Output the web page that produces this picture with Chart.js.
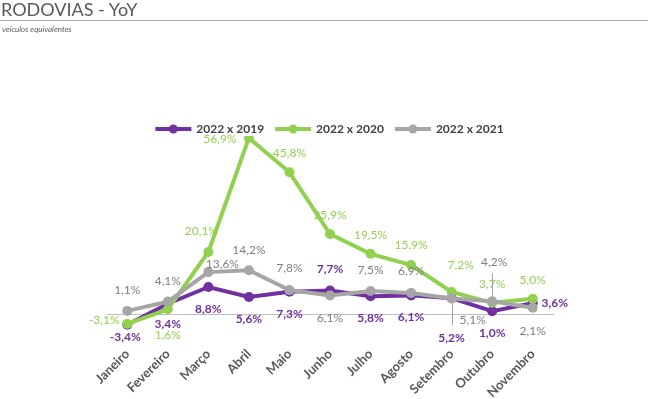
<!DOCTYPE html>
<html>
<head>
<meta charset="utf-8">
<script src="https://cdn.jsdelivr.net/npm/chart.js@4.4.0/dist/chart.umd.min.js"></script>
<style>
    html, body { margin: 0; padding: 0; background: #fff; }
    #wrap { position: relative; width: 650px; height: 399px; }
    #title { position: absolute; left: 1px; top: 0px; font-family: Lato, sans-serif; font-weight: 400; font-size: 18px; line-height: 19px; color: #595959; }
    #rule { position: absolute; left: 0; top: 20px; width: 648px; height: 1px; background: #a6a6a6; }
    #sub { position: absolute; left: 2px; top: 24px; font-family: Lato, sans-serif; font-style: italic; font-size: 8px; color: #595959; }
    canvas { position: absolute; left: 0; top: 0; }
</style>
</head>
<body>
<div id="wrap">
    <canvas id="chart" width="650" height="399"></canvas>
    <div id="title">RODOVIAS - YoY</div>
    <div id="rule"></div>
    <div id="sub">veículos equivalentes</div>
</div>
<script>
const months = ['Janeiro', 'Fevereiro', 'Março', 'Abril', 'Maio', 'Junho', 'Julho', 'Agosto', 'Setembro', 'Outubro', 'Novembro'];
const seriesNames = ['2022 x 2019', '2022 x 2020', '2022 x 2021'];
const vs2019 = [-3.4, 3.4, 8.8, 5.6, 7.3, 7.7, 5.8, 6.1, 5.2, 1.0, 3.6];
const vs2020 = [-3.1, 1.6, 20.1, 56.9, 45.8, 25.9, 19.5, 15.9, 7.2, 3.7, 5.0];
const vs2021 = [1.1, 4.1, 13.6, 14.2, 7.8, 6.1, 7.5, 6.9, 5.1, 4.2, 2.1];

// where each value label sits relative to its point (px)
const offs2019 = [[-2, 12], [0, 20], [0, 22], [0, 22], [0, 22], [0, -21], [0, 22], [0, 22], [0, 40], [0, 22], [22, 0]];
const offs2020 = [[-23, -4], [0, 26], [-7, -21], [-29, 1], [0, -19], [0, -19], [0, -19], [0, -20], [9, -27], [0, -19], [0, -19]];
const offs2021 = [[0, -21], [0, -20], [14, -8], [0, -20], [0, -22], [0, 23], [0, -21], [0, -22], [21, 22], [2, -39], [0, 23]];
const leaders2021 = { 8: 27, 9: -28 };

const PURPLE = '#7030a0';
const GREEN = '#92d050';
const GRAY = '#a6a6a6';

function fmt(v) {
    return v.toFixed(1).replace('.', ',') + '%';
}

function legendMarker(color) {
    const c = document.createElement('canvas');
    c.width = 40;
    c.height = 12;
    const g = c.getContext('2d');
    g.strokeStyle = color;
    g.lineWidth = 4;
    g.beginPath();
    g.moveTo(2, 6);
    g.lineTo(38, 6);
    g.stroke();
    g.fillStyle = color;
    g.beginPath();
    g.arc(20, 6, 4.5, 0, Math.PI * 2);
    g.fill();
    return c;
}

const pointLabels = {
    id: 'pointLabels',
    afterDatasetsDraw(chart) {
        const ctx = chart.ctx;
        chart.data.datasets.forEach((ds, i) => {
            const meta = chart.getDatasetMeta(i);
            ctx.save();
            ctx.font = (ds.labelWeight || 'normal') + ' 12px Lato';
            ctx.fillStyle = ds.labelColor;
            ctx.textAlign = 'center';
            ctx.textBaseline = 'middle';
            meta.data.forEach((pt, j) => {
                const o = ds.labelOffsets[j];
                if (ds.leaders && ds.leaders[j] !== undefined) {
                    ctx.strokeStyle = GRAY;
                    ctx.lineWidth = 1;
                    ctx.beginPath();
                    ctx.moveTo(Math.round(pt.x) + 0.5, pt.y);
                    ctx.lineTo(Math.round(pt.x) + 0.5, pt.y + ds.leaders[j]);
                    ctx.stroke();
                }
                ctx.fillText(fmt(ds.data[j]), pt.x + o[0], pt.y + o[1]);
            });
            ctx.restore();
        });
    }
};

// legend sits a bit lower than Chart.js would put it, close to the top of the plot
const legendShift = {
    id: 'legendShift',
    afterLayout(chart) {
        const lg = chart.legend;
        const d = 111 - lg.top;
        lg.top += d;
        lg.bottom += d;
    }
};

const ctx = document.getElementById('chart').getContext('2d');
const colors = [PURPLE, GREEN, GRAY];

new Chart(ctx, {
    type: 'line',
    data: {
        labels: months,
        datasets: [{
            label: seriesNames[0],
            data: vs2019,
            borderColor: PURPLE,
            backgroundColor: PURPLE,
            labelColor: PURPLE,
            labelWeight: 'bold',
            labelOffsets: offs2019,
            order: 2
        }, {
            label: seriesNames[1],
            data: vs2020,
            borderColor: GREEN,
            backgroundColor: GREEN,
            labelColor: GREEN,
            labelOffsets: offs2020,
            order: 1
        }, {
            label: seriesNames[2],
            data: vs2021,
            borderColor: GRAY,
            backgroundColor: GRAY,
            labelColor: '#7f7f7f',
            labelOffsets: offs2021,
            leaders: leaders2021,
            order: 0
        }]
    },
    options: {
        responsive: false,
        animation: false,
        elements: {
            line: { borderWidth: 4, tension: 0 },
            point: { radius: 5, borderWidth: 0, hoverRadius: 5 }
        },
        layout: { padding: { left: 107, right: 97, top: 102, bottom: 53.7 } },
        scales: {
            x: {
                position: { y: 0 },
                offset: true,
                grid: { display: true, drawOnChartArea: false, drawTicks: false },
                border: { display: true, color: '#bfbfbf', width: 1 },
                ticks: {
                    autoSkip: false,
                    minRotation: 45,
                    maxRotation: 45,
                    padding: 32,
                    color: '#595959',
                    font: { family: 'Lato', weight: 'bold', size: 13 }
                }
            },
            y: { display: false, min: -10, max: 57.5 }
        },
        plugins: {
            tooltip: { enabled: false },
            legend: {
                position: 'top',
                labels: {
                    usePointStyle: true,
                    pointStyleWidth: 34,
                    padding: 12,
                    color: '#404040',
                    font: { family: 'Lato', weight: 'bold', size: 12 },
                    generateLabels: chart => chart.data.datasets.map((ds, i) => ({
                        text: ds.label,
                        pointStyle: legendMarker(colors[i]),
                        fontColor: '#404040',
                        lineWidth: 0,
                        hidden: false,
                        datasetIndex: i
                    }))
                }
            }
        }
    },
    plugins: [pointLabels, legendShift]
});
</script>
</body>
</html>
